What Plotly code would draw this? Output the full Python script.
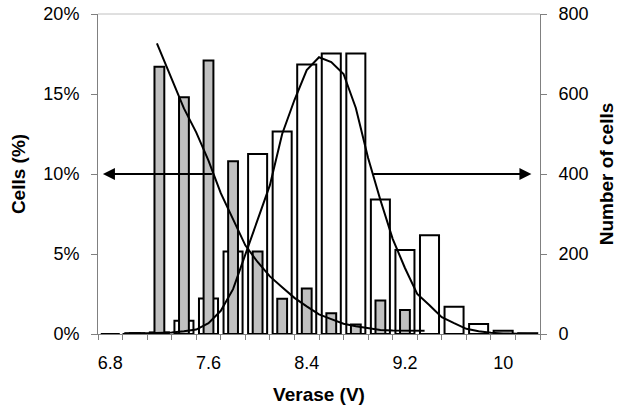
import plotly.graph_objects as go

# Categories (Verase, V)
voltage = [6.8, 7.0, 7.2, 7.4, 7.6, 7.8, 8.0, 8.2, 8.4, 8.6, 8.8, 9.0, 9.2, 9.4, 9.6, 9.8, 10.0, 10.2]
# Grey bars: Cells (%) (left axis)
cells_pct = [0, 0.05, 16.7, 14.8, 17.1, 10.8, 5.15, 2.2, 2.85, 1.3, 0.6, 2.1, 1.5, 0, 0, 0, 0, 0]
# White bars: Number of cells (right axis)
cells_count = [0, 2, 4, 33, 89, 206, 450, 506, 674, 701, 701, 336, 210, 247, 68, 25, 8, 2]

# Decreasing fitted curve (Cells %)
fit_pct_v = [7.18, 7.3, 7.4, 7.5, 7.6, 7.7, 7.8, 7.9, 8.0, 8.1, 8.2, 8.3, 8.4, 8.5, 8.6,
             8.7, 8.8, 8.9, 9.0, 9.1, 9.2, 9.3, 9.36]
fit_pct = [18.17, 15.9, 14.1, 12.6, 10.84, 8.8, 7.13, 5.54, 4.5, 3.6, 2.92, 2.26, 1.73, 1.23, 0.93,
           0.64, 0.48, 0.36, 0.25, 0.22, 0.2, 0.2, 0.2]

# Gaussian fitted curve (Number of cells)
fit_cnt_v = [6.9, 7.0, 7.1, 7.2, 7.3, 7.4, 7.5, 7.6, 7.7, 7.8, 7.9, 8.0, 8.1, 8.2, 8.3, 8.4,
             8.5, 8.6, 8.7, 8.8, 8.9, 9.0, 9.1, 9.2, 9.3, 9.4, 9.5, 9.6, 9.7, 9.8, 9.9, 10.0, 10.1, 10.2]
fit_cnt = [0, 1, 2, 3, 4, 7, 11, 27, 58, 112, 200, 288, 372, 500, 585, 660,
           692, 680, 650, 565, 440, 335, 238, 165, 100, 72, 42, 27, 13, 7, 3, 1.5, 0.5, 0]

x_tick_labels = [6.8, 7.6, 8.4, 9.2, 10]
pct_ticks = [0, 5, 10, 15, 20]
cnt_ticks = [0, 200, 400, 600, 800]

FONT = "Liberation Sans"
AX = "#808080"

fig = go.Figure()
fig.add_trace(go.Bar(x=voltage, y=cells_count, width=0.155, yaxis="y",
                     marker=dict(color="white", line=dict(color="black", width=2)),
                     name="Number of cells"))
fig.add_trace(go.Bar(x=voltage, y=cells_pct, width=0.08, yaxis="y2",
                     marker=dict(color="#c0c0c0", line=dict(color="black", width=2)),
                     name="Cells (%)"))
fig.add_trace(go.Scatter(x=fit_pct_v, y=fit_pct, yaxis="y2", mode="lines",
                         line=dict(color="black", width=2), name="fit %"))
fig.add_trace(go.Scatter(x=fit_cnt_v, y=fit_cnt, yaxis="y3", mode="lines",
                         line=dict(color="black", width=2), name="fit count"))

half = (voltage[1] - voltage[0]) / 2
bounds = [v - half for v in voltage] + [voltage[-1] + half]

fig.update_layout(
    width=630, height=412,
    margin=dict(l=98, r=90, t=14, b=78),
    paper_bgcolor="white", plot_bgcolor="white",
    showlegend=False, barmode="overlay",
    font=dict(family=FONT, size=18, color="black"),
    xaxis=dict(range=[bounds[0], bounds[-1]], tickvals=x_tick_labels,
               ticktext=[f"{v:g}" for v in x_tick_labels], ticks="",
               showline=True, linecolor=AX, linewidth=1, showgrid=False, zeroline=False,
               ticklabelstandoff=12, automargin=False,
               minor=dict(tickmode="array", tickvals=bounds, ticks="outside", ticklen=5,
                          tickcolor=AX, showgrid=False),
               title=dict(text="<b>Verase (V)</b>", font=dict(size=19), standoff=16)),
    yaxis=dict(side="right", range=[0, 800], tickvals=cnt_ticks, ticks="outside",
               ticklen=6, tickcolor=AX, showline=True, linecolor=AX, linewidth=1,
               showgrid=False, zeroline=False, ticklabelstandoff=8, automargin=False,
               title=dict(text="<b>Number of cells</b>", font=dict(size=19), standoff=12)),
    yaxis2=dict(side="left", overlaying="y", range=[0, 20], tickvals=pct_ticks,
                ticktext=[f"{t}%" for t in pct_ticks], ticks="outside", ticklen=6, tickcolor=AX,
                showline=True, linecolor=AX, linewidth=1, showgrid=False, zeroline=False,
                ticklabelstandoff=8, automargin=False,
                title=dict(text="<b>Cells (%)</b>", font=dict(size=19), standoff=12)),
    yaxis3=dict(overlaying="y", range=[0, 800], visible=False),
    shapes=[dict(type="line", xref="paper", yref="paper", x0=0, x1=1, y0=1, y1=1,
                 line=dict(color="#c0c0c0", width=1))],
    annotations=[
        dict(x=6.74, y=10, xref="x", yref="y2", ax=7.64, ay=10, axref="x", ayref="y2",
             text="", showarrow=True, arrowhead=2, arrowsize=1.2, arrowwidth=2, arrowcolor="black"),
        dict(x=10.23, y=400, xref="x", yref="y", ax=8.93, ay=400, axref="x", ayref="y",
             text="", showarrow=True, arrowhead=2, arrowsize=1.2, arrowwidth=2, arrowcolor="black"),
    ],
)

fig.write_html("out.html", config={"displayModeBar": False},
               post_script="document.body.style.margin='0px';")
